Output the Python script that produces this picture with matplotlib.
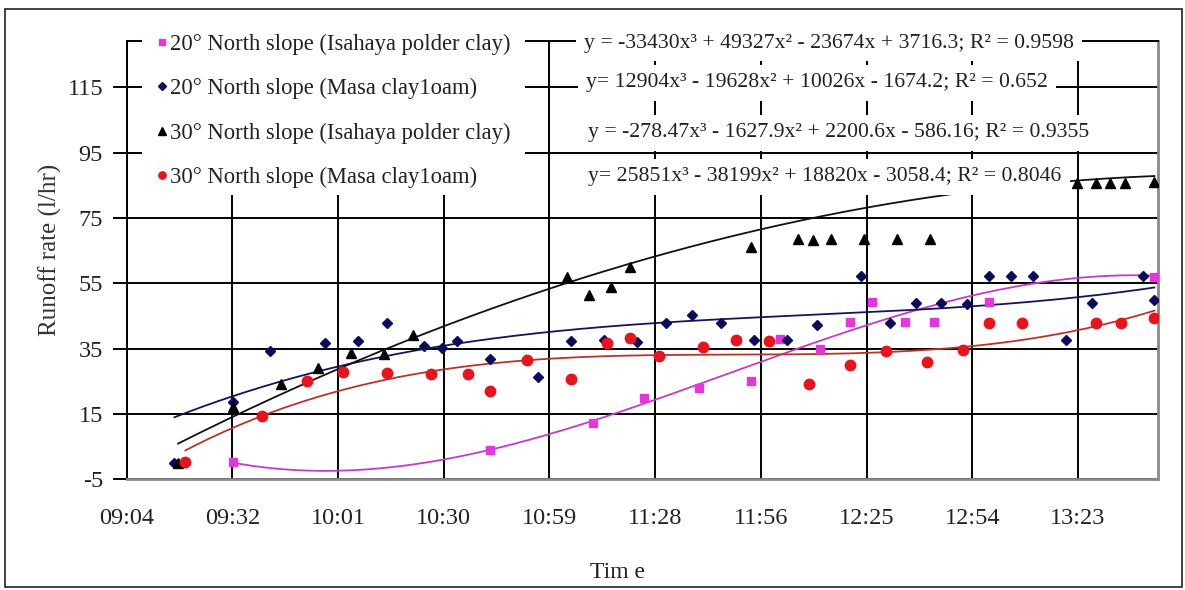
import numpy as np
import matplotlib
matplotlib.use("Agg")
import matplotlib.pyplot as plt
from matplotlib.patches import Rectangle
from matplotlib.lines import Line2D

plt.rcParams['font.family'] = ['Liberation Serif', 'DejaVu Serif']
plt.rcParams['axes.unicode_minus'] = False

# ---------------- data ----------------
x_tick_labels = ["09:04", "09:32", "10:01", "10:30", "10:59", "11:28",
                 "11:56", "12:25", "12:54", "13:23"]
y_ticks = [-5, 15, 35, 55, 75, 95, 115]

series_names = ["20° North slope (Isahaya polder clay)",
                "20° North slope (Masa clay1oam)",
                "30° North slope (Isahaya polder clay)",
                "30° North slope (Masa clay1oam)"]

pink_t = ["09:33", "10:43", "11:11", "11:25", "11:40", "11:54", "12:02", "12:13",
          "12:21", "12:27", "12:36", "12:44", "12:59", "13:44"]
pink_v = [0.3, 3.9, 12.2, 20.0, 23.1, 25.0, 38.1, 34.9,
          43.2, 49.2, 43.2, 43.2, 49.4, 57.0]

navy_t = ["09:17", "09:33", "09:43", "09:58", "10:07", "10:15", "10:25", "10:30",
          "10:34", "10:43", "10:56", "11:05", "11:14", "11:23", "11:31", "11:38",
          "11:46", "11:55", "12:04", "12:12", "12:24", "12:32", "12:39", "12:46",
          "12:53", "12:59", "13:05", "13:11", "13:20", "13:27", "13:41", "13:44"]
navy_v = [0.0, 18.7, 34.3, 36.6, 37.3, 42.9, 35.9, 35.1,
          37.3, 31.7, 26.4, 37.3, 37.8, 37.1, 42.9, 45.3,
          42.9, 37.8, 37.8, 42.2, 57.2, 42.9, 48.9, 49.1,
          48.7, 57.2, 57.2, 57.2, 37.8, 48.9, 57.2, 49.9]

black_t = ["09:18", "09:33", "09:46", "09:56", "10:05", "10:14", "10:22", "11:04",
           "11:10", "11:16", "11:21", "11:54", "12:07", "12:11", "12:16", "12:25",
           "12:34", "12:43", "13:23", "13:28", "13:32", "13:36", "13:44"]
black_v = [0.0, 17.0, 24.3, 29.2, 33.7, 33.3, 39.2, 57.0,
           51.4, 53.8, 60.1, 66.2, 68.5, 68.3, 68.5, 68.5,
           68.5, 68.5, 85.6, 85.6, 85.6, 85.6, 86.0]

red_t = ["09:20", "09:41", "09:53", "10:03", "10:15", "10:27", "10:37", "10:43",
         "10:53", "11:05", "11:15", "11:21", "11:29", "11:41", "11:50", "11:59",
         "12:10", "12:21", "12:31", "12:42", "12:52", "12:59", "13:08", "13:28",
         "13:35", "13:44"]
red_v = [0.3, 14.3, 25.2, 27.9, 27.6, 27.1, 27.1, 22.1,
         31.5, 25.8, 36.6, 38.4, 32.7, 35.4, 37.8, 37.3,
         24.1, 30.0, 34.4, 31.0, 34.6, 42.9, 42.9, 42.9,
         42.9, 44.3]

# trendline coefficients as printed on the chart (x in days), and R^2
pink_coef = [-33430, 49327, -23674, 3716.3]
navy_coef = [12904, -19628, 10026, -1674.2]
black_coef = [-278.47, -1627.9, 2200.6, -586.16]
red_coef = [25851, -38199, 18820, -3058.4]
r2_values = ["0.9598", "0.652", "0.9355", "0.8046"]
eq_prefix = ["y = ", "y= ", "y = ", "y= "]


def to_min(s):
    h, m = s.split(":")
    return int(h) * 60 + int(m)


W, H = 1185, 590


def fx(px):
    return px / W


def fy(py):
    return 1 - py / H


fig = plt.figure(figsize=(W / 100, H / 100), dpi=100)
ax = fig.add_axes([fx(126.7), fy(479.3), (1158 - 126.7) / W, (479.3 - 40.7) / H])

t_start = 544.0          # 09:04
t_step = 28.8            # 0.02 day
ax.set_xlim(t_start, t_start + 281.0)
ax.set_ylim(-5, 129.3)
ax.set_xticks([t_start + i * t_step for i in range(len(x_tick_labels))])
ax.set_xticklabels(x_tick_labels)
ax.set_yticks(y_ticks)
ax.grid(True, color='black', lw=1.4)
ax.set_axisbelow(True)

for side in ['left', 'top']:
    ax.spines[side].set_color('black')
    ax.spines[side].set_linewidth(1.4)
for side in ['right', 'bottom']:
    ax.spines[side].set_color('#8a8a8a')
    ax.spines[side].set_linewidth(2.0)

ax.tick_params(axis='y', direction='out', length=10, width=1.4, pad=7,
               labelsize=17.5, colors='black')
ax.tick_params(axis='x', length=0, pad=21, labelsize=17.5)
for lab in ax.get_xticklabels() + ax.get_yticklabels():
    lab.set_color('#222222')

styles = [
    dict(marker='s', ms=6, color='#E535DC', line='#C43CC4'),
    dict(marker='D', ms=5.5, color='#0B0B5E', line='#14145A'),
    dict(marker='^', ms=7.5, color='#000000', line='#111111'),
    dict(marker='o', ms=7.5, color='#E8141B', line='#B8352A'),
]
all_t = [pink_t, navy_t, black_t, red_t]
all_v = [pink_v, navy_v, black_v, red_v]
all_c = [pink_coef, navy_coef, black_coef, red_coef]

handles = []
for st, ts, vs, cf in zip(styles, all_t, all_v, all_c):
    tm = np.array([to_min(s) for s in ts], dtype=float)
    tf = np.linspace(tm.min(), tm.max(), 400)
    ax.plot(tf, np.polyval(cf, tf / 1440.0), color=st['line'], lw=1.3, zorder=2)
    ax.plot(tm, vs, ls='none', marker=st['marker'], ms=st['ms'],
            color=st['color'], mec=st['color'], zorder=3)
    handles.append(Line2D([], [], ls='none', marker=st['marker'],
                          ms=st['ms'] * 0.7, color=st['color']))

# white box behind the legend
ax.add_patch(Rectangle((fx(142), fy(195)), (525 - 142) / W, (195 - 33) / H,
                       transform=fig.transFigure, facecolor='white',
                       edgecolor='none', zorder=4, clip_on=False))
leg = ax.legend(handles, series_names, loc='upper left',
                bbox_to_anchor=(fx(155), fy(33.5)), bbox_transform=fig.transFigure,
                frameon=False, borderpad=0, borderaxespad=0,
                handlelength=0.6, handletextpad=0.05, labelspacing=1.03,
                prop={'family': 'Liberation Serif', 'size': 16.3})
for txt in leg.get_texts():
    txt.set_color('#222222')


def fmt_eq(prefix, c, r2):
    def g(v):
        return f"{abs(v):g}"
    s = prefix + f"{c[0]:g}x³"
    s += (" - " if c[1] < 0 else " + ") + g(c[1]) + "x²"
    s += (" - " if c[2] < 0 else " + ") + g(c[2]) + "x"
    s += (" - " if c[3] < 0 else " + ") + g(c[3])
    s += "; R² = " + r2
    return s


eq_x = [584, 586, 588, 588]
eq_y = [43.5, 83, 133, 177]
for i in range(4):
    fig.text(fx(eq_x[i]), fy(eq_y[i]), fmt_eq(eq_prefix[i], all_c[i], r2_values[i]),
             ha='left', va='center', fontsize=15.7, color='#222222',
             bbox=dict(facecolor='white', edgecolor='none', pad=6))

fig.text(fx(617), fy(572), "Tim e", ha='center', va='center', fontsize=17,
         color='#222222')
fig.text(fx(50), fy(250), "Runoff rate (l/hr)", rotation=90, ha='center',
         va='center', fontsize=18, color='#333333')

fig.add_artist(Rectangle((fx(5), fy(587)), (1182 - 5) / W, (587 - 9) / H,
                         transform=fig.transFigure, fill=False,
                         edgecolor='#222222', lw=1.2))

fig.savefig("out.png", dpi=100)
